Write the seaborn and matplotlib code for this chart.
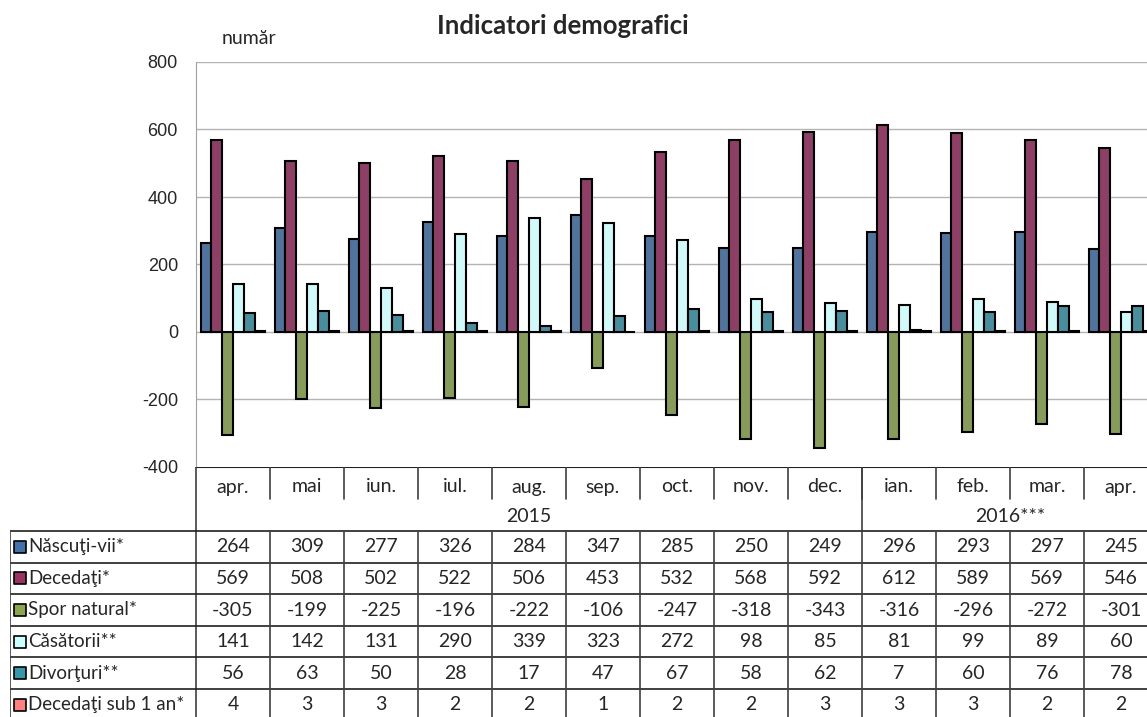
import matplotlib
matplotlib.use("Agg")
import matplotlib.pyplot as plt
import pandas as pd
import seaborn as sns

# data
months = ["apr.", "mai", "iun.", "iul.", "aug.", "sep.", "oct.", "nov.", "dec.",
          "ian.", "feb.", "mar.", "apr."]
years = ["2015"] * 9 + ["2016***"] * 4
series = ["Născuţi-vii*", "Decedaţi*", "Spor natural*", "Căsătorii**",
          "Divorţuri**", "Decedaţi sub 1 an*"]
nascuti = [264, 309, 277, 326, 284, 347, 285, 250, 249, 296, 293, 297, 245]
decedati = [569, 508, 502, 522, 506, 453, 532, 568, 592, 612, 589, 569, 546]
spor = [-305, -199, -225, -196, -222, -106, -247, -318, -343, -316, -296, -272, -301]
casatorii = [141, 142, 131, 290, 339, 323, 272, 98, 85, 81, 99, 89, 60]
divorturi = [56, 63, 50, 28, 17, 47, 67, 58, 62, 7, 60, 76, 78]
sub1an = [4, 3, 3, 2, 2, 1, 2, 2, 3, 3, 3, 2, 2]
colors = ["#4472A8", "#9A3264", "#8BA650", "#CCFFFF", "#3C96AA", "#FF8080"]

values = [nascuti, decedati, spor, casatorii, divorturi, sub1an]
periods = [f"{m} {y}" for m, y in zip(months, years)]
rows = []
for name, vals in zip(series, values):
    for p, v in zip(periods, vals):
        rows.append({"perioada": p, "indicator": name, "valoare": v})
df = pd.DataFrame(rows)

sns.set_style("white")
plt.rcParams["font.family"] = ["Lato", "DejaVu Sans"]

W, H = 1147, 717
fig = plt.figure(figsize=(W / 100, H / 100), dpi=100)

# plot area in pixels: x 196..1158 (cut on the right), y 62..467
x0, x1, ytop, ybot = 196, 1158, 62, 467
cw = (x1 - x0) / len(months)
ax = fig.add_axes([x0 / W, 1 - ybot / H, (x1 - x0) / W, (ybot - ytop) / H])

sns.barplot(data=df, x="perioada", y="valoare", hue="indicator", order=periods,
            hue_order=series, palette=colors, width=0.876, edgecolor="black",
            linewidth=1.5, ax=ax, legend=False)

ax.set_xlim(-0.5, len(months) - 0.5)
ax.set_ylim(-400, 800)
ax.set_yticks(range(-400, 801, 200))
ax.set_yticklabels([str(t) for t in range(-400, 801, 200)],
                   family=["Liberation Sans", "DejaVu Sans"], fontsize=13)
ax.set_xticks([])
ax.set_xlabel("")
ax.set_ylabel("")
for t in range(-200, 801, 200):
    ax.axhline(t, color="#B3B3B3", lw=1, zorder=0)
for s in ["top", "right", "bottom"]:
    ax.spines[s].set_visible(False)
ax.spines["left"].set_color("#A0A0A0")
ax.tick_params(axis="y", direction="out", length=6, color="#A0A0A0", width=1, pad=7)

# data table under the chart
fs = 14
tl = 10
tax = fig.add_axes([tl / W, 1 - 725 / H, (x1 - tl) / W, (725 - ybot) / H])
tax.set_xlim(-0.5 - (x0 - tl) / cw, len(months) - 0.5)
tax.set_ylim(725, ybot)
tax.axis("off")
left = -0.5 - (x0 - tl) / cw
right = len(months) - 0.5
lc = "#404040"
tax.plot([-0.5, right], [ybot, ybot], color="#202020", lw=1.5)
tax.plot([-0.5, -0.5], [ybot, 725], color=lc, lw=1.2)
for i, m in enumerate(months):
    tax.text(i, 487, m, ha="center", va="center", fontsize=fs)
    if i > 0:
        tax.plot([i - 0.5, i - 0.5], [ybot, 499], color=lc, lw=1.2)
tax.text(4, 516, "2015", ha="center", va="center", fontsize=fs)
tax.text(10.5, 516, "2016***", ha="center", va="center", fontsize=fs)
tax.plot([8.5, 8.5], [ybot, 531], color=lc, lw=1.2)

row_tops = [531 + 31.6 * k for k in range(7)]
for k in range(7):
    tax.plot([left, right], [row_tops[k], row_tops[k]], color="#202020", lw=1.2)
tax.plot([left, left], [531, 725], color=lc, lw=1.2)
for i in range(1, len(months) + 1):
    tax.plot([i - 0.5, i - 0.5], [531, 725], color=lc, lw=1.2)

for k, (name, vals, c) in enumerate(zip(series, values, colors)):
    yc = row_tops[k] + 15.8
    tax.scatter([left + 0.14], [yc], marker="s", s=75, color=c,
                edgecolor="black", linewidth=1.2, zorder=3)
    tax.text(left + 0.25, yc, name, ha="left", va="center", fontsize=13.5)
    for i, v in enumerate(vals):
        tax.text(i, yc, str(v), ha="center", va="center", fontsize=fs)

fig.text(563 / W, 1 - 26 / H, "Indicatori demografici", ha="center", va="center",
         fontsize=18.5, fontweight="bold")
fig.text(222 / W, 1 - 38 / H, "număr", ha="left", va="center", fontsize=14)

fig.savefig("out.png", dpi=100)
